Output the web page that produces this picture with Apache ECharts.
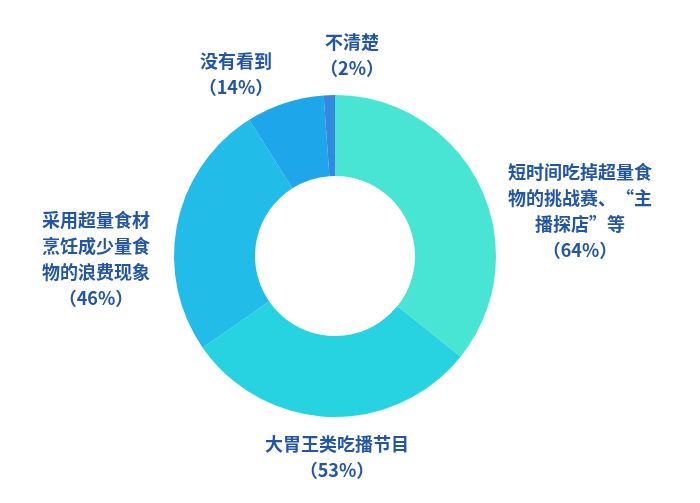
<!doctype html>
<html lang="zh-CN">
<head>
<meta charset="utf-8">
<title>吃播节目认知情况</title>
<style>
html, body { margin: 0; padding: 0; background: #fff; }
#mainChart { width: 700px; height: 503px; }
</style>
</head>
<body>
<div id="mainChart"></div>
<script src="https://cdn.jsdelivr.net/npm/echarts@6/dist/echarts.min.js"></script>
<script>
var categories = ['短时间吃掉超量食\n物的挑战赛、“主\n播探店”等', '大胃王类吃播节目', '采用超量食材\n烹饪成少量食\n物的浪费现象', '没有看到', '不清楚'];
var values = [64, 53, 46, 14, 2];
var colors = ['#48e5d5', '#27d3e1', '#22bce8', '#1ea6ea', '#3388e0'];

var myChart = echarts.init(document.getElementById('mainChart'));

var pieData = [];
for (var i = 0; i < values.length; i++) {
    pieData.push({ name: categories[i], value: values[i], itemStyle: { color: colors[i] } });
}

// 标签中心位置（按扇区顺序）
var labelPos = [[580, 211], [337, 457], [96, 259], [236, 74], [352, 55]];

var option = {
    series: [
        {
            type: 'pie',
            center: [335, 256],
            radius: [80, 161],
            startAngle: 90,
            clockwise: true,
            avoidLabelOverlap: false,
            itemStyle: { borderWidth: 0 },
            label: {
                position: 'outside',
                formatter: function (p) { return p.name + '\n（' + p.value + '%）'; },
                color: '#2355a6',
                fontFamily: 'Noto Sans CJK SC',
                fontSize: 18,
                fontWeight: 'bold',
                lineHeight: 26,
                align: 'center'
            },
            labelLine: { show: false },
            labelLayout: function (params) {
                var p = labelPos[params.dataIndex];
                return { x: p[0], y: p[1], align: 'center', verticalAlign: 'middle', hideOverlap: false };
            },
            data: pieData,
            animation: false
        }
    ]
};

myChart.setOption(option);
</script>
</body>
</html>
